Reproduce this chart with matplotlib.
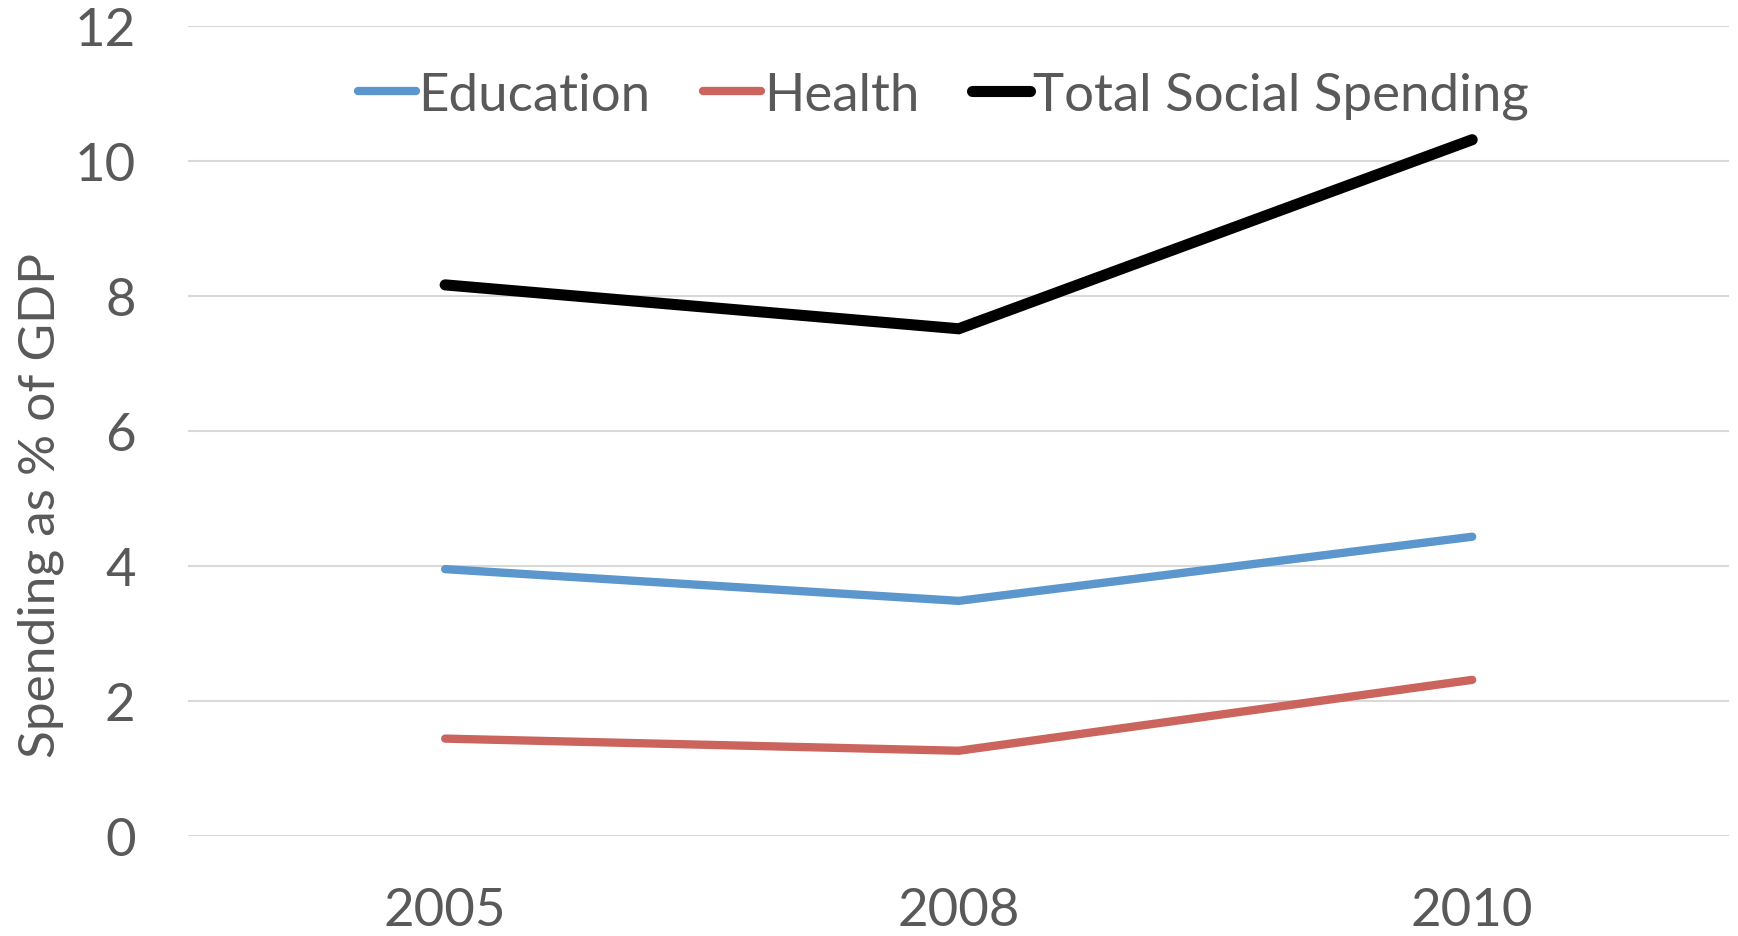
import matplotlib.pyplot as plt

plt.rcParams['font.family'] = ['Lato', 'DejaVu Sans']

years = ["2005", "2008", "2010"]
education = [3.95, 3.48, 4.43]
health = [1.44, 1.26, 2.31]
total = [8.16, 7.51, 10.31]

series_names = ["Education", "Health", "Total Social Spending"]
colors = ["#5B96CC", "#CC645E", "#000000"]
widths = [6.0, 6.0, 8.0]

text_col = "#595959"

fig = plt.figure(figsize=(17.38, 9.37), dpi=100)
ax = fig.add_axes([0.1084, 0.1069, 0.8864, 0.8647])

x = range(len(years))
for vals, name, c, lw in zip([education, health, total], series_names, colors, widths):
    ax.plot(x, vals, color=c, lw=lw, label=name, solid_capstyle='round', solid_joinstyle='miter')

ax.set_xlim(-0.5, 2.5)
ax.set_ylim(0, 12)
ax.set_yticks([0, 2, 4, 6, 8, 10, 12])
ax.set_xticks(list(x))
ax.set_xticklabels(years)
ax.grid(axis='y', color='#D9D9D9', lw=1.5)
ax.set_axisbelow(True)
for s in ax.spines.values():
    s.set_visible(False)
ax.tick_params(length=0, labelsize=38, colors=text_col)
ax.tick_params(axis='y', pad=38)
ax.tick_params(axis='x', pad=37)

ax.set_ylabel("Spending as % of GDP", fontsize=37, color=text_col)
ax.yaxis.set_label_coords(-0.081, 0.4095)

leg = ax.legend(loc='center', bbox_to_anchor=(0.49, 0.914), ncol=3, frameon=False,
                fontsize=38, handlelength=1.1, handletextpad=0.05, columnspacing=1.0,
                labelcolor=text_col)

fig.savefig("out.png", dpi=100)
